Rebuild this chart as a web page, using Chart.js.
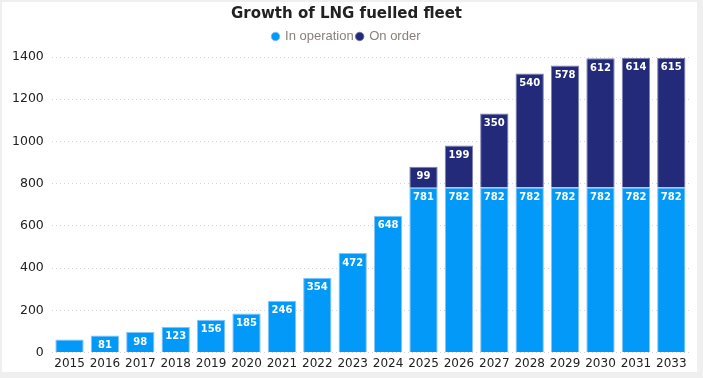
<!DOCTYPE html>
<html>
<head>
<meta charset="utf-8">
<script src="https://cdn.jsdelivr.net/npm/chart.js@4"></script>
<style>
  html, body { margin: 0; padding: 0; background: #efefef; }
  #box { position: absolute; left: 2px; top: 2px; width: 695px; height: 370px; background: #fff; }
  canvas { position: absolute; left: 0; top: 0; }
</style>
</head>
<body>
<div id="box"><canvas id="myChart" width="695" height="374"></canvas></div>
<script>
// data
var YEARS = ['2015', '2016', '2017', '2018', '2019', '2020', '2021', '2022', '2023',
    '2024', '2025', '2026', '2027', '2028', '2029', '2030', '2031', '2033'];
var IN_OPERATION = [62, 81, 98, 123, 156, 185, 246, 354, 472, 648, 781, 782, 782, 782, 782, 782, 782, 782];
var ON_ORDER = [0, 0, 0, 0, 0, 0, 0, 0, 0, 0, 99, 199, 350, 540, 578, 612, 614, 615];
var Y_TICKS = [0, 200, 400, 600, 800, 1000, 1200, 1400];

var LIGHT = '#0399f8';
var DARK = '#222a79';

// white numbers at the top inside each bar
var barLabels = {
    id: 'barLabels',
    afterDatasetsDraw: function(chart) {
	var ctx = chart.ctx;
	ctx.save();
	ctx.fillStyle = '#fff';
	ctx.font = 'bold 10px "DejaVu Sans"';
	ctx.textAlign = 'center';
	ctx.textBaseline = 'top';
	chart.data.datasets.forEach(function(ds, i) {
	    var meta = chart.getDatasetMeta(i);
	    meta.data.forEach(function(bar, j) {
		var v = ds.data[j];
		if (!v) return;
		var h = Math.abs(bar.base - bar.y);
		if (h < 15) return;
		ctx.fillText(v, bar.x, bar.y + 5);
	    });
	});
	ctx.restore();
    }
};

// a bit more room under the legend
var legendGap = {
    id: 'legendGap',
    beforeInit: function(chart) {
	var fit = chart.legend.fit;
	chart.legend.fit = function() {
	    fit.call(this);
	    this.height += 4;
	};
    }
};

var ctx = document.getElementById('myChart').getContext('2d');
var myChart = new Chart(ctx, {
    type: 'bar',
    data: {
	labels: YEARS,
	datasets: [{
	    label: 'In operation',
	    data: IN_OPERATION,
	    backgroundColor: LIGHT,
	    borderColor: 'rgba(120,190,245,0.9)',
	    borderWidth: 1,
	    categoryPercentage: 0.8,
	    barPercentage: 1
	}, {
	    label: 'On order',
	    data: ON_ORDER,
	    backgroundColor: DARK,
	    borderColor: 'rgba(110,115,170,0.9)',
	    borderWidth: 1,
	    categoryPercentage: 0.8,
	    barPercentage: 1
	}]
    },
    plugins: [legendGap, barLabels],
    options: {
	responsive: false,
	animation: false,
	layout: { padding: { left: 2, right: 8, top: 0, bottom: 1 } },
	plugins: {
	    title: {
		display: true,
		text: 'Growth of LNG fuelled fleet',
		color: '#222',
		font: { family: '"DejaVu Sans"', size: 15, weight: 'bold' },
		padding: { top: 3, bottom: 4 }
	    },
	    legend: {
		labels: {
		    usePointStyle: true,
		    pointStyle: 'circle',
		    boxWidth: 6,
		    boxHeight: 6,
		    padding: 3,
		    color: '#8a807b',
		    font: { family: '"Liberation Sans Narrow", "Liberation Sans"', size: 13 }
		}
	    },
	    tooltip: { enabled: false }
	},
	scales: {
	    x: {
		stacked: true,
		grid: { display: false, drawTicks: false },
		border: { display: false },
		ticks: { color: '#222', font: { family: '"DejaVu Sans"', size: 12 }, padding: 4, maxRotation: 0, autoSkip: false }
	    },
	    y: {
		stacked: true,
		min: 0,
		max: 1400,
		afterBuildTicks: function(axis) {
		    axis.ticks = Y_TICKS.map(function(v) { return { value: v }; });
		},
		grid: { color: '#d4d4d4', borderDash: [1, 3], drawTicks: false },
		border: { display: false, dash: [1, 3] },
		ticks: {
		    color: '#222',
		    font: { family: '"DejaVu Sans"', size: 12.5 },
		    padding: 8,
		    callback: function(v) { return String(v); }
		}
	    }
	}
    }
});
</script>
</body>
</html>
